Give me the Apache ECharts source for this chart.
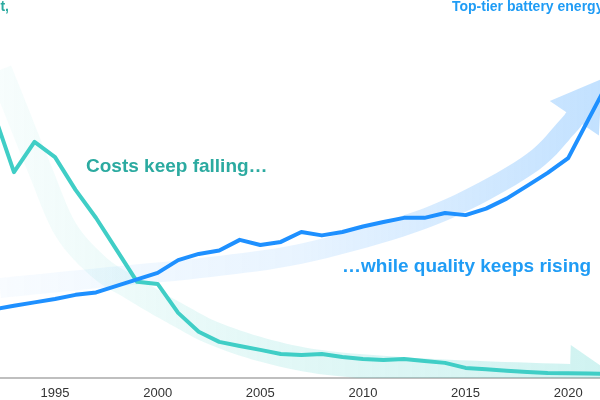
<!DOCTYPE html>
<html><head><meta charset="utf-8">
<script src="https://cdn.jsdelivr.net/npm/echarts@6/dist/echarts.min.js"></script>
<style>html,body{margin:0;padding:0;background:#fff}#chart{width:600px;height:400px}</style>
</head><body><div id="chart"></div>
<script>
// ---- data ----
const years = [1992,1993,1994,1995,1996,1997,1998,1999,2000,2001,2002,2003,2004,2005,2006,2007,2008,2009,2010,2011,2012,2013,2014,2015,2016,2017,2018,2019,2020,2021,2022];
const costPerKWh = [6330,4900,5620,5260,4480,3810,3050,2290,2240,1550,1100,860,760,670,570,550,570,500,450,430,450,405,360,240,210,170,140,120,115,105,100];
const energyDensity = [200,210,220,230,242,249,268,287,306,343,361,371,402,387,396,425,415,425,441,454,466,466,480,474,493,522,559,597,640,754,867];
const tickYears = [1995,2000,2005,2010,2015,2020];
// annotation arrows, in data coordinates [year, value]
const costArrowPath = [[1992.32,7333],[1993.10,6381],[1994.27,4952],[1995.53,3524],[1997.19,2619],[1998.65,2167],[1999.87,1810],[2001.09,1476],[2002.69,1071],[2005.13,667],[2007.91,381],[2011.80,214],[2015.70,119],[2020.08,48]];
const qualityArrowPath = [[1992.32,262],[1997.68,294],[2002.55,323],[2006.93,361],[2011.80,439],[2015.07,518],[2018.28,629],[2019.94,730],[2020.3,756]];
const titleLeft = 'Lithium-ion battery cost,';
const titleRight = 'Top-tier battery energy density';
const noteCost = 'Costs keep falling…';
const noteQuality = '…while quality keeps rising';

function smoothPath(pts, n) {
  const out = [];
  for (let i = 0; i < pts.length - 1; i++) {
    const p0 = pts[Math.max(i-1,0)], p1 = pts[i], p2 = pts[i+1], p3 = pts[Math.min(i+2, pts.length-1)];
    for (let k = 0; k < n; k++) {
      const t = k/n, t2 = t*t, t3 = t2*t;
      const f = j => 0.5*((2*p1[j]) + (-p0[j]+p2[j])*t + (2*p0[j]-5*p1[j]+4*p2[j]-p3[j])*t2 + (-p0[j]+3*p1[j]-3*p2[j]+p3[j])*t3);
      out.push([f(0), f(1)]);
    }
  }
  out.push(pts[pts.length-1]);
  return out;
}
function arrowShape(pts, halfW, headHalfW, headLen) {
  const left = [], right = [];
  for (let i = 0; i < pts.length; i++) {
    const a = pts[Math.max(i-1,0)], b = pts[Math.min(i+1,pts.length-1)];
    let dx = b[0]-a[0], dy = b[1]-a[1]; const L = Math.hypot(dx,dy)||1; dx/=L; dy/=L;
    const nx = -dy, ny = dx;
    left.push([pts[i][0]+nx*halfW, pts[i][1]+ny*halfW]);
    right.push([pts[i][0]-nx*halfW, pts[i][1]-ny*halfW]);
  }
  const e = pts[pts.length-1], p = pts[pts.length-3];
  let dx = e[0]-p[0], dy = e[1]-p[1]; const L = Math.hypot(dx,dy)||1; dx/=L; dy/=L;
  const nx = -dy, ny = dx;
  const head = [[e[0]+nx*headHalfW, e[1]+ny*headHalfW],[e[0]+dx*headLen, e[1]+dy*headLen],[e[0]-nx*headHalfW, e[1]-ny*headHalfW]];
  return left.concat(head, right.reverse());
}

const chart = echarts.init(document.getElementById('chart'), null, {renderer:'canvas'});
const teal = '#40CEC6', blue = '#1E90FF';
const option = {
  animation: false,
  grid: {left: 0, right: 0, top: 0, bottom: 22, containLabel: false},
  xAxis: {
    type: 'value', min: 1992.32, max: 2021.55,
    splitLine: {show: false},
    axisTick: {show: false},
    axisLine: {lineStyle: {color: '#aaaaaa', width: 1.5}},
    axisLabel: {customValues: tickYears, formatter: v => String(v), color: '#333', fontSize: 13, margin: 9, fontFamily: 'Liberation Sans, Arial, sans-serif'}
  },
  yAxis: [
    {type: 'value', min: 0, max: 9000, show: false, splitLine: {show: false}},
    {type: 'value', min: 0, max: 1100, show: false, splitLine: {show: false}}
  ],
  series: [
    {
      type: 'custom', yAxisIndex: 0, clip: true, z: 1, silent: true, data: [[2000, 1000]],
      renderItem: (params, api) => {
        const pts = smoothPath(costArrowPath.map(p => api.coord(p)), 8);
        return {type: 'polygon', shape: {points: arrowShape(pts, 12, 31, 48)},
          style: {fill: new echarts.graphic.LinearGradient(0, 0, 1, 0, [
            {offset: 0, color: 'rgba(64,206,198,0.04)'},
            {offset: 0.45, color: 'rgba(64,206,198,0.15)'},
            {offset: 1, color: 'rgba(64,206,198,0.25)'}])}};
      }
    },
    {
      type: 'custom', yAxisIndex: 1, clip: true, z: 1, silent: true, data: [[2000, 300]],
      renderItem: (params, api) => {
        const pts = smoothPath(qualityArrowPath.map(p => api.coord(p)), 8);
        return {type: 'polygon', shape: {points: arrowShape(pts, 10, 30, 48)},
          style: {fill: new echarts.graphic.LinearGradient(0, 0, 1, 0, [
            {offset: 0, color: 'rgba(30,144,255,0.03)'},
            {offset: 0.5, color: 'rgba(30,144,255,0.10)'},
            {offset: 1, color: 'rgba(30,144,255,0.27)'}])}};
      }
    },
    {
      type: 'line', yAxisIndex: 0, z: 3, symbol: 'none', silent: true,
      data: years.map((y, i) => [y, costPerKWh[i]]),
      lineStyle: {color: teal, width: 4, cap: 'round', join: 'round'}
    },
    {
      type: 'line', yAxisIndex: 1, z: 4, symbol: 'none', silent: true,
      data: years.map((y, i) => [y, energyDensity[i]]),
      lineStyle: {color: blue, width: 4, cap: 'round', join: 'round'}
    }
  ],
  graphic: [
    {type: 'text', right: 591, top: 0, style: {text: titleLeft, fill: '#2BAAA0', font: 'bold 14px "Liberation Sans", Arial, sans-serif'}},
    {type: 'text', left: 452, top: 0, style: {text: titleRight, fill: '#1F9CF5', font: 'bold 14px "Liberation Sans", Arial, sans-serif'}},
    {type: 'text', left: 86, top: 157, style: {text: noteCost, fill: '#2BAAA0', font: 'bold 19px "Liberation Sans", Arial, sans-serif'}},
    {type: 'text', left: 342, top: 257, style: {text: noteQuality, fill: '#1F9CF5', font: 'bold 19px "Liberation Sans", Arial, sans-serif'}}
  ]
};
chart.setOption(option);
</script></body></html>
